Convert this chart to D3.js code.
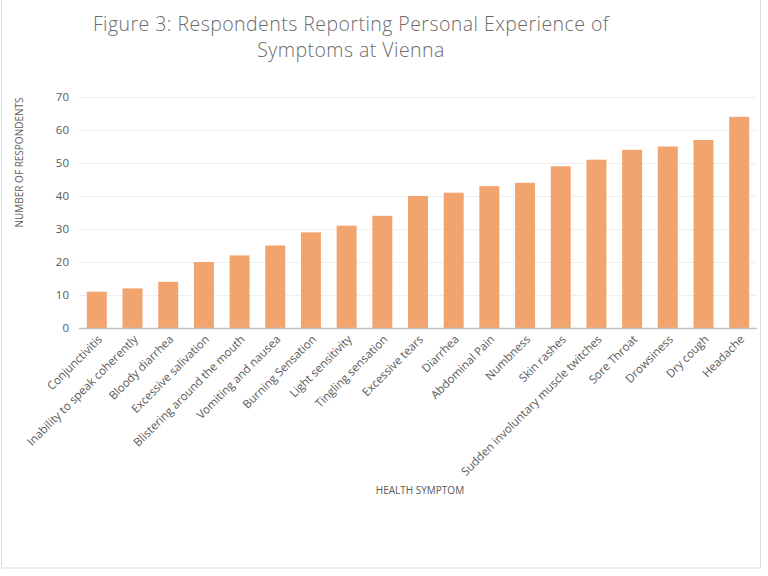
<!DOCTYPE html>
<html>
<head>
<meta charset="utf-8">
<script src="https://cdn.jsdelivr.net/npm/d3@7"></script>
<style>
  body { margin: 0; background: #fff; }
  svg { display: block; font-family: "Open Sans", sans-serif; }
  .tick text { fill: #595959; }
</style>
</head>
<body>
<div id="chart"></div>
<script>
// data
const symptoms = [
  "Conjunctivitis", "Inability to speak coherently", "Bloody diarrhea",
  "Excessive salivation", "Blistering around the mouth", "Vomiting and nausea",
  "Burning Sensation", "Light sensitivity", "Tingling sensation",
  "Excessive tears", "Diarrhea", "Abdominal Pain", "Numbness", "Skin rashes",
  "Sudden involuntary muscle twitches", "Sore Throat", "Drowsiness",
  "Dry cough", "Headache"
];
const respondents = [11, 12, 14, 20, 22, 25, 29, 31, 34, 40, 41, 43, 44, 49, 51, 54, 55, 57, 64];
const yTicks = [0, 10, 20, 30, 40, 50, 60, 70];
const titleLines = ["Figure 3: Respondents Reporting Personal Experience of", "Symptoms at Vienna"];

const width = 768, height = 576;
const margin = { top: 97, right: 10, bottom: 248, left: 79 };
const font = '"Open Sans", sans-serif';

const svg = d3.select("#chart").append("svg")
    .attr("width", width)
    .attr("height", height);

// outer frame
svg.append("rect")
    .attr("x", 1.5).attr("y", -2)
    .attr("width", 759).attr("height", 570)
    .attr("fill", "none")
    .attr("stroke", "#d9d9d9");

const x = d3.scaleBand()
    .domain(symptoms)
    .range([margin.left, width - margin.right - 1])
    .paddingInner(0.44)
    .paddingOuter(0.22);

const y = d3.scaleLinear()
    .domain([0, 70])
    .range([height - margin.bottom, margin.top]);

// gridlines
svg.append("g")
  .selectAll("line")
  .data(yTicks.slice(1))
  .join("line")
    .attr("x1", margin.left).attr("x2", width - margin.right - 1)
    .attr("y1", d => y(d) + 0.5).attr("y2", d => y(d) + 0.5)
    .attr("stroke", "#efefef");

// bars
svg.append("g")
  .selectAll("rect")
  .data(respondents)
  .join("rect")
    .attr("x", (d, i) => x(symptoms[i]))
    .attr("y", d => y(d))
    .attr("width", x.bandwidth())
    .attr("height", d => y(0) - y(d))
    .attr("fill", "#f2a46e");

// y axis (labels only)
const yAxis = d3.axisLeft(y).tickValues(yTicks).tickSize(0).tickPadding(10);
svg.append("g")
    .attr("transform", `translate(${margin.left},0)`)
    .call(yAxis)
    .attr("font-family", font)
    .call(g => g.select(".domain").remove())
    .call(g => g.selectAll("text").attr("font-size", 11.5));

// x axis
const xAxis = d3.axisBottom(x).tickSize(0).tickPadding(0);
svg.append("g")
    .attr("transform", `translate(0,${y(0)})`)
    .call(xAxis)
    .attr("font-family", font)
    .call(g => g.select(".domain").attr("stroke", "#bfbfbf").attr("stroke-width", 1.5)
        .attr("d", `M${margin.left},0.5H${width - margin.right - 1}`))
    .call(g => g.selectAll(".tick text")
        .attr("font-size", 11.5)
        .attr("text-anchor", "end")
        .attr("dy", 0)
        .attr("transform", "translate(6,12) rotate(-45)"));

// axis titles
svg.append("text")
    .attr("transform", `translate(23,${(y(0) + y(70)) / 2 - 50}) rotate(-90)`)
    .attr("text-anchor", "middle")
    .attr("font-size", 10)
    .attr("fill", "#595959")
    .text("NUMBER OF RESPONDENTS");

svg.append("text")
    .attr("x", 420).attr("y", 494)
    .attr("text-anchor", "middle")
    .attr("font-size", 10)
    .attr("fill", "#595959")
    .text("HEALTH SYMPTOM");

// title
svg.append("g")
  .selectAll("text")
  .data(titleLines)
  .join("text")
    .attr("x", 351)
    .attr("y", (d, i) => 31 + i * 26)
    .attr("text-anchor", "middle")
    .attr("font-size", 19.5)
    .attr("font-weight", 300)
    .attr("fill", "#6b6b6b")
    .attr("letter-spacing", 0.45)
    .text(d => d);
</script>
</body>
</html>
